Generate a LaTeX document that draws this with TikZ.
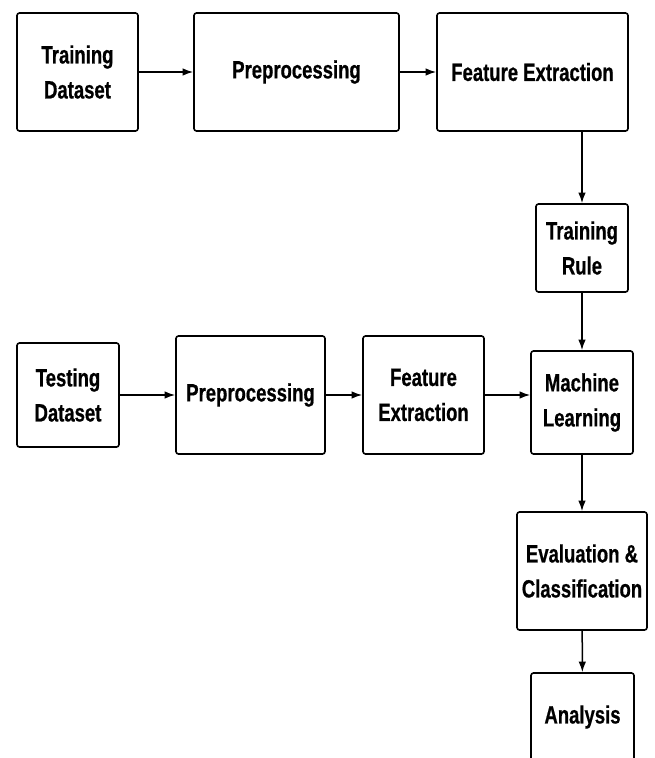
\documentclass[tikz,border=0pt]{standalone}
\usepackage{fontspec}
\setmainfont{Liberation Sans}[FakeStretch=0.74, FakeBold=0.6]
\usepackage{tikz}
\usetikzlibrary{arrows.meta,positioning,calc}
\tikzset{
block/.style = {draw, fill=white, rectangle, rounded corners=2.5pt, line width=1.6pt,
  align=center, inner sep=2pt, font=\bfseries\fontsize{25}{35}\selectfont},
line/.style = {line width=1.5pt, ->}
}

\begin{document}
\begin{tikzpicture}[x=1pt, y=-1pt, >={Latex[length=10.5pt,width=7.5pt]}]
  \useasboundingbox (0,0) rectangle (655,758);

  % training branch
  \node [block, minimum width=121pt, minimum height=118pt] (trainset) at (77.5,72)  {Training\\Dataset};
  \node [block, minimum width=205pt, minimum height=118pt] (prepa)    at (296.5,72) {Preprocessing};
  \node [block, minimum width=191pt, minimum height=118pt] (feata)    at (532.5,72) {Feature Extraction};
  \node [block, minimum width=92pt,  minimum height=88pt]  (rule)     at (582,248)  {Training\\Rule};

  % testing branch
  \node [block, minimum width=102pt, minimum height=104pt] (testset)  at (68,395)    {Testing\\Dataset};
  \node [block, minimum width=149pt, minimum height=118pt] (prepb)    at (250.5,395) {Preprocessing};
  \node [block, minimum width=121pt, minimum height=118pt] (featb)    at (423.5,395) {Feature\\Extraction};
  \node [block, minimum width=102pt, minimum height=103pt] (ml)       at (582,402.5) {Machine\\Learning};
  \node [block, minimum width=130pt, minimum height=118pt] (eval)     at (582,571)   {Evaluation \&\\Classification};
  \node [block, minimum width=103pt, minimum height=88pt]  (analysis) at (582.5,717) {Analysis};

  \draw [line] (trainset) -- (prepa);
  \draw [line] (prepa) -- (feata);
  \draw [line] (rule.north |- feata.south) -- (rule);
  \draw [line] (rule) -- (ml);
  \draw [line] (testset) -- (testset -| prepb.west);
  \draw [line] (prepb) -- (featb);
  \draw [line] (featb.east) -- (featb.east -| ml.west);
  \draw [line] (ml) -- (eval);
  \draw [line] (eval) -- (analysis);
\end{tikzpicture}
\end{document}
